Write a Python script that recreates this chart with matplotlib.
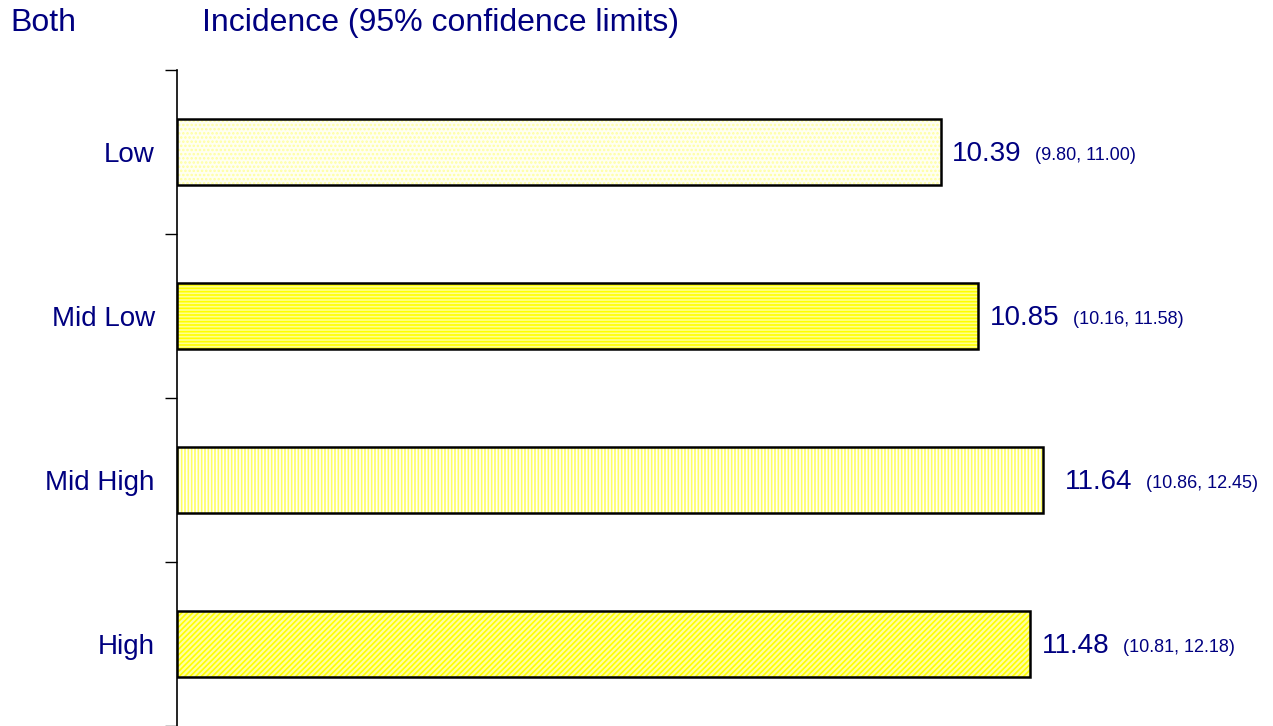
import matplotlib.pyplot as plt
import numpy as np

plt.rcParams['font.family'] = ['Liberation Sans', 'DejaVu Sans']

groups = ['Low', 'Mid Low', 'Mid High', 'High']
rates = [10.39, 10.85, 11.64, 11.48]
lower = [9.80, 10.16, 10.86, 10.81]
upper = [11.00, 11.58, 12.45, 12.18]

navy = '#000080'
x0 = 1.03

# fill colour, hatch, hatch colour, label gap (px) for each bar
styles = [('#fffff2', '....', '#ffffa0', 11),
          ('#ffff90', '-----', '#ffff00', 11),
          ('#ffffff', '|||||', '#ffff60', 22),
          ('#ffffa0', '//////', '#ffff00', 12)]

fig = plt.figure(figsize=(12.73, 7.26), dpi=100)
ax = fig.add_axes([177 / 1273, 0.0, 1 - 177 / 1273, 1 - 70 / 726])

y = np.arange(len(groups))
plt.rcParams['hatch.linewidth'] = 1.2
for i, (face, hatch, hcol, gap) in enumerate(styles):
    w = rates[i] - x0
    ax.barh(y[i], w, left=x0, height=0.4, color=face, hatch=hatch,
            edgecolor=hcol, linewidth=0)
    ax.barh(y[i], w, left=x0, height=0.4, color='none',
            edgecolor='black', linewidth=1.8)
    t = ax.annotate(f'{rates[i]:.2f}', xy=(rates[i], y[i]),
                    xytext=(gap * 0.72, -1.5), textcoords='offset points',
                    color=navy, fontsize=20, va='center', ha='left')
    ax.annotate(f'({lower[i]:.2f}, {upper[i]:.2f})', xy=(1, 0.5),
                xycoords=t, xytext=(10, -1), textcoords='offset points',
                color=navy, fontsize=13, va='center', ha='left')

ax.set_xlim(x0, 14.46)
ax.set_ylim(len(groups) - 0.5, -0.5)
ax.set_yticks(y)
ax.set_yticklabels(groups, color=navy, fontsize=20)
ax.tick_params(axis='y', which='major', length=0, pad=16)
ax.set_yticks(np.arange(-0.5, len(groups), 1.0), minor=True)
ax.tick_params(axis='y', which='minor', length=9, width=1, direction='out')
ax.set_xticks([])
for s in ['top', 'right', 'bottom']:
    ax.spines[s].set_visible(False)
ax.spines['left'].set_linewidth(1.2)

fig.text(10 / 1273, 1 - 23 / 726, 'Both', color=navy, fontsize=23, va='center')
fig.text(202 / 1273, 1 - 23 / 726, 'Incidence (95% confidence limits)',
         color=navy, fontsize=23, va='center')

fig.savefig('out.png', dpi=100)
